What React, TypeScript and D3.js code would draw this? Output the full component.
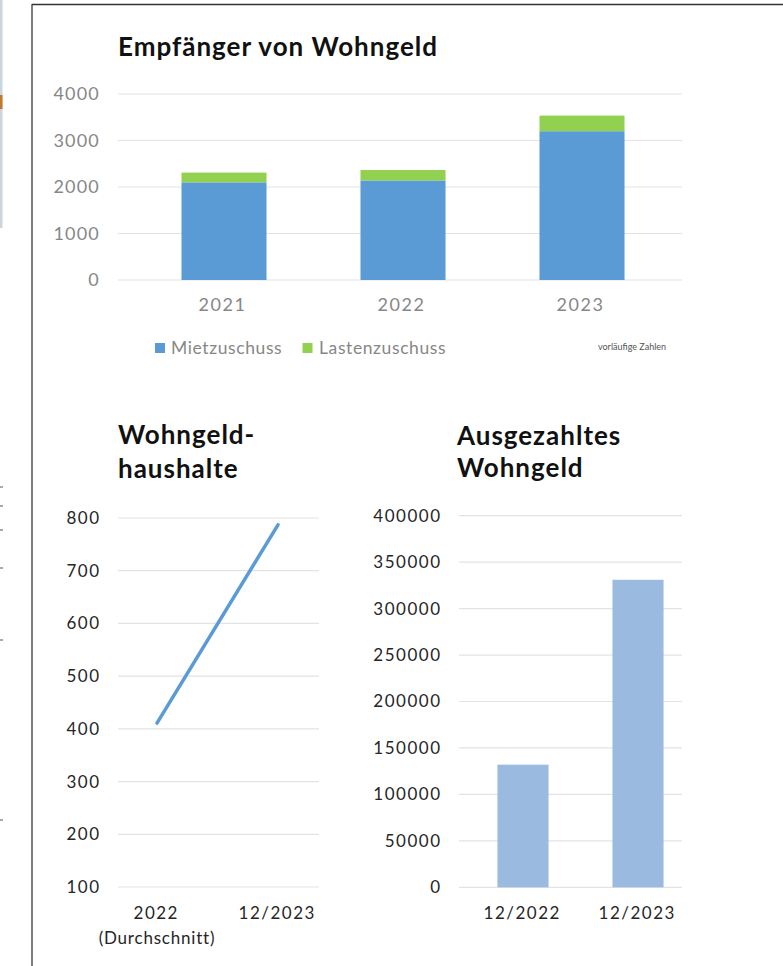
import React from "react";
import * as d3 from "d3";

const years = ["2021", "2022", "2023"];
const mietzuschuss = [2100, 2140, 3200];
const lastenzuschuss = [210, 225, 335];
const topTicks = [0, 1000, 2000, 3000, 4000];

const hhCats = ["2022", "12/2023"];
const hhValues = [411, 787];
const hhTicks = [100, 200, 300, 400, 500, 600, 700, 800];

const payCats = ["12/2022", "12/2023"];
const payValues = [132000, 331000];
const payTicks = [0, 50000, 100000, 150000, 200000, 250000, 300000, 350000, 400000];

const BLUE = "#5b9bd5";
const GREEN = "#92d050";
const LIGHTBLUE = "#9bbae0";
const GRID = "#e3e3e3";
const FONT = "Lato, 'Noto Sans', sans-serif";
const GRAY = "#878787";
const DARK = "#262626";

export default function App() {
  // Top chart
  const yTop = d3.scaleLinear().domain([0, 4000]).range([280, 94]);
  const xTop = d3.scaleBand().domain(years).range([134.5, 671.5]).paddingInner(0.525).paddingOuter(0.2625);
  const stacked = d3.stack<any>().keys(["m", "l"])(
    years.map((y, i) => ({ year: y, m: mietzuschuss[i], l: lastenzuschuss[i] }))
  );
  const stackColors = [BLUE, GREEN];

  // Households line chart
  const yHH = d3.scaleLinear().domain([100, 800]).range([887, 518]);
  const xHH = d3.scalePoint().domain(hhCats).range([157, 278]);
  const line = d3
    .line<number>()
    .x((_, i) => xHH(hhCats[i]) as number)
    .y((d) => yHH(d));

  // Payments bar chart
  const yPay = d3.scaleLinear().domain([0, 400000]).range([887.3, 515.7]);
  const xPay = d3.scaleBand().domain(payCats).range([465.5, 695.5]).paddingInner(0.556).paddingOuter(0.278);

  const leftTicks = [487, 506, 530, 568, 640, 820];

  const titleProps = { fontSize: 26, fontWeight: 700, fill: "#111", letterSpacing: 1 } as any;

  return (
    <svg
      width={783}
      height={966}
      style={{ position: "absolute", left: 0, top: 0, background: "#fff" }}
      fontFamily={FONT}
    >
      <rect x={0} y={0} width={783} height={966} fill="#fff" />
      {/* left artifacts */}
      <rect x={0} y={0} width={2.5} height={228} fill="#c9d6de" />
      <rect x={0} y={95} width={2.5} height={14} fill="#c2782e" />
      {leftTicks.map((t) => (
        <line key={t} x1={0} x2={3} y1={t} y2={t} stroke="#555" strokeWidth={1} />
      ))}
      {/* frame */}
      <line x1={32} x2={32} y1={4} y2={966} stroke="#555" strokeWidth={1.5} />
      <line x1={32} x2={783} y1={4.5} y2={4.5} stroke="#333" strokeWidth={1.5} />

      {/* ===== Top chart ===== */}
      <text x={118} y={56} {...titleProps}>
        Empfänger von Wohngeld
      </text>
      {topTicks.map((t) => (
        <g key={t}>
          <line x1={118} x2={682} y1={yTop(t)} y2={yTop(t)} stroke={GRID} strokeWidth={1.2} />
          <text x={100} y={yTop(t)} dy="0.35em" textAnchor="end" fontSize={18} letterSpacing={1.2} fill={GRAY}>
            {t}
          </text>
        </g>
      ))}
      {stacked.map((s, si) =>
        s.map((d, i) => (
          <rect
            key={si + "-" + i}
            x={xTop(years[i])}
            y={yTop(d[1])}
            width={xTop.bandwidth()}
            height={yTop(d[0]) - yTop(d[1])}
            fill={stackColors[si]}
          />
        ))
      )}
      {years.map((y) => (
        <text
          key={y}
          x={(xTop(y) as number) + xTop.bandwidth() / 2}
          dx={-1.5}
          y={311}
          textAnchor="middle"
          fontSize={18}
          letterSpacing={1.5}
          fill={GRAY}
        >
          {y}
        </text>
      ))}
      {/* legend */}
      <rect x={155} y={343} width={10} height={10} fill={BLUE} />
      <text x={171} y={354} fontSize={17.5} letterSpacing={0.6} fill={GRAY}>
        Mietzuschuss
      </text>
      <rect x={302.5} y={343} width={10} height={10} fill={GREEN} />
      <text x={319} y={354} fontSize={17.5} letterSpacing={0.6} fill={GRAY}>
        Lastenzuschuss
      </text>
      <text x={598} y={350} fontSize={9} fill="#555">
        vorläufige Zahlen
      </text>

      {/* ===== Households ===== */}
      <text x={118} y={444} {...titleProps}>
        Wohngeld-
      </text>
      <text x={118} y={478} {...titleProps}>
        haushalte
      </text>
      {hhTicks.map((t) => (
        <g key={t}>
          <line x1={118} x2={319} y1={yHH(t)} y2={yHH(t)} stroke={GRID} strokeWidth={1.2} />
          <text x={100.5} y={yHH(t)} dy="0.35em" textAnchor="end" fontSize={17} letterSpacing={1.5} fill={DARK}>
            {t}
          </text>
        </g>
      ))}
      <path d={line(hhValues) || ""} fill="none" stroke={BLUE} strokeWidth={3.5} strokeLinecap="round" />
      {hhCats.map((c) => (
        <text key={c} x={xHH(c)} dx={-0.75} y={919} textAnchor="middle" fontSize={17} letterSpacing={1.5} fill={DARK}>
          {c}
        </text>
      ))}
      <text x={xHH(hhCats[0])} y={944} textAnchor="middle" fontSize={17} letterSpacing={0.8} fill={DARK}>
        (Durchschnitt)
      </text>

      {/* ===== Payments ===== */}
      <text x={457} y={445} {...titleProps}>
        Ausgezahltes
      </text>
      <text x={457} y={477} {...titleProps}>
        Wohngeld
      </text>
      {payTicks.map((t) => (
        <g key={t}>
          <line x1={459} x2={682} y1={yPay(t)} y2={yPay(t)} stroke={GRID} strokeWidth={1.2} />
          <text x={441.5} y={yPay(t)} dy="0.35em" textAnchor="end" fontSize={17} letterSpacing={1.5} fill={DARK}>
            {t}
          </text>
        </g>
      ))}
      {payCats.map((c, i) => (
        <rect
          key={c}
          x={xPay(c)}
          y={yPay(payValues[i])}
          width={xPay.bandwidth()}
          height={yPay(0) - yPay(payValues[i])}
          fill={LIGHTBLUE}
        />
      ))}
      {payCats.map((c) => (
        <text
          key={c}
          x={(xPay(c) as number) + xPay.bandwidth() / 2}
          dx={-0.75}
          y={919}
          textAnchor="middle"
          fontSize={17}
          letterSpacing={1.5}
          fill={DARK}
        >
          {c}
        </text>
      ))}
    </svg>
  );
}
